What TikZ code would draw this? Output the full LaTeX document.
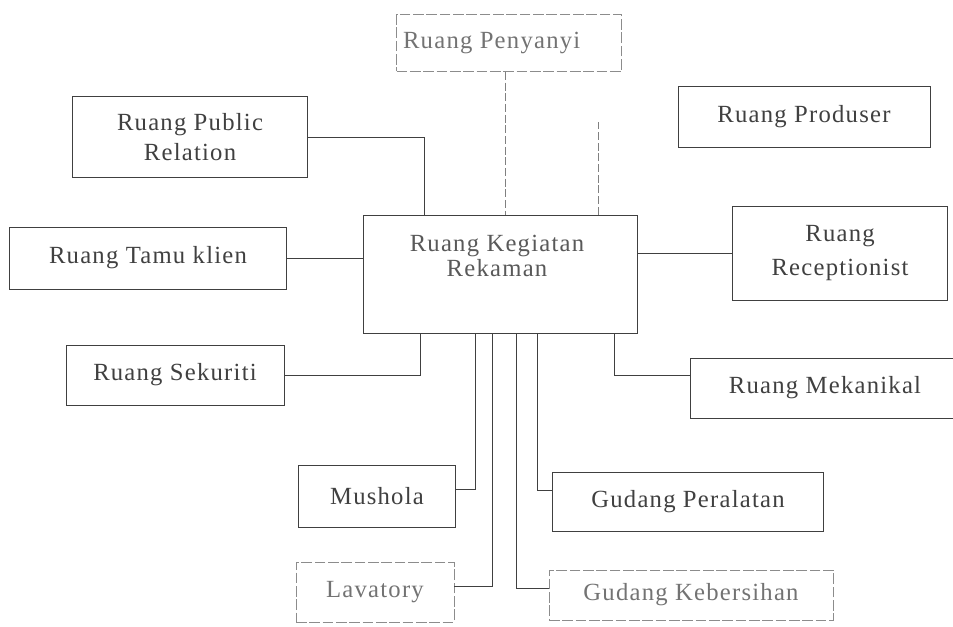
\documentclass[tikz,border=0pt]{standalone}
\usepackage{fontspec}
\setmainfont{Liberation Serif}[LetterSpace=5]
\begin{document}
\begin{tikzpicture}[x=0.75pt,y=-0.75pt,
  room/.style={draw=black!75, line width=0.7pt, inner sep=0pt, align=center,
    text=black!75, font=\fontsize{18.5}{22}\selectfont},
  faint/.style={draw=black!45, dash pattern=on 8pt off 2pt, text=black!55},
  link/.style={draw=black!75, line width=0.7pt},
  faintlink/.style={draw=black!50, line width=0.7pt, dash pattern=on 6pt off 2pt}]
\useasboundingbox (0,0) rectangle (953,627);

% central recording room
\node[room, minimum width=274*0.75pt, minimum height=118*0.75pt] (cen) at (500,274) {};
\node[text=black!65, font=\fontsize{18.5}{19}\selectfont, align=center] (centxt) at (497,256) {Ruang Kegiatan\\Rekaman};

% surrounding rooms
\node[room, faint, minimum width=225*0.75pt, minimum height=57*0.75pt] (pen) at (509,43) {Ruang Penyanyi\hspace*{26pt}};
\node[room, minimum width=235*0.75pt, minimum height=81*0.75pt] (pr) at (190,137) {Ruang Public\\Relation};
\node[room, minimum width=252*0.75pt, minimum height=61*0.75pt] (prod) at (804,117) {Ruang Produser};
\node[room, minimum width=277*0.75pt, minimum height=62*0.75pt] (tamu) at (148,258) {Ruang Tamu klien};
\node[room, font=\fontsize{18.5}{26}\selectfont, minimum width=215*0.75pt, minimum height=94*0.75pt] (rec) at (840,253) {Ruang\\Receptionist};
\node[room, minimum width=218*0.75pt, minimum height=60*0.75pt] (sek) at (175,375) {Ruang Sekuriti};
\node[room, minimum width=270*0.75pt, minimum height=60*0.75pt] (mek) at (825,388) {Ruang Mekanikal};
\node[room, minimum width=157*0.75pt, minimum height=62*0.75pt] (mus) at (377,496) {Mushola};
\node[room, minimum width=271*0.75pt, minimum height=59*0.75pt] (gp) at (688,502) {Gudang Peralatan};
\node[room, faint, minimum width=158*0.75pt, minimum height=60*0.75pt] (lav) at (375,592) {Lavatory};
\node[room, faint, minimum width=284*0.75pt, minimum height=50*0.75pt] (gk) at (691,595) {Gudang Kebersihan};

% x positions of the vertical runs
\coordinate (xpen) at (505,0);
\coordinate (xpr) at (424,0);
\coordinate (xprod) at (598,0);
\coordinate (xsek) at (420,0);
\coordinate (xmek) at (614,0);
\coordinate (xmus) at (475,0);
\coordinate (xgp) at (537,0);
\coordinate (xlav) at (492,0);
\coordinate (xgk) at (516,0);
\coordinate (prodend) at (598,122);

% entry points on the side walls
\coordinate (mekin) at ([yshift=9.75pt]mek.west);
\coordinate (musin) at ([yshift=5.25pt]mus.east);
\coordinate (gpin) at ([yshift=9pt]gp.west);
\coordinate (lavin) at ([yshift=4.5pt]lav.east);
\coordinate (gkin) at ([yshift=5.25pt]gk.west);

% connectors
\draw[faintlink] (pen.south -| xpen) -- (cen.north -| xpen);
\draw[link] (pr.east) -- (pr.east -| xpr) -- (cen.north -| xpr);
\draw[faintlink] (cen.north -| xprod) -- (prodend);
\draw[link] (tamu.east) -- (cen.west |- tamu.east);
\draw[link] (cen.east |- rec.west) -- (rec.west);
\draw[link] (sek.east) -- (sek.east -| xsek) -- (cen.south -| xsek);
\draw[link] (cen.south -| xmek) -- (xmek |- mekin) -- (mekin);
\draw[link] (musin) -- (musin -| xmus) -- (cen.south -| xmus);
\draw[link] (cen.south -| xgp) -- (xgp |- gpin) -- (gpin);
\draw[link] (lavin) -- (lavin -| xlav) -- (cen.south -| xlav);
\draw[link] (cen.south -| xgk) -- (xgk |- gkin) -- (gkin);
\end{tikzpicture}
\end{document}
